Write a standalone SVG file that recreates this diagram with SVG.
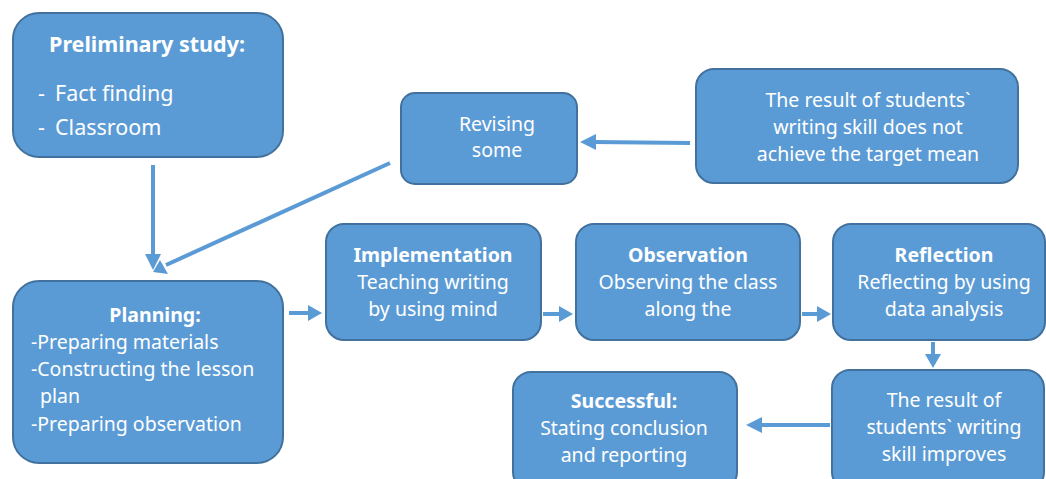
<svg xmlns="http://www.w3.org/2000/svg" width="1046" height="479" viewBox="0 0 1046 479">
  <defs>
    <style>
      .box { fill: #5b9bd5; stroke: #41719c; stroke-width: 2; }
      .t { font-family: "Noto Sans", "Open Sans", sans-serif; font-size: 19.5px; fill: #ffffff; }
      .big { font-size: 21.5px; }
      .b { font-weight: bold; }
      .c { text-anchor: middle; }
      .link { stroke: #5b9bd5; stroke-width: 4; fill: none; }
      .head { fill: #5b9bd5; }
    </style>
  </defs>
  <rect width="1046" height="479" fill="#ffffff"/>

  <g id="connectors">
    <!-- preliminary study down to planning -->
    <line class="link" x1="153" y1="165" x2="153" y2="256"/>
    <polygon class="head" points="145,254 161,254 153,270"/>
    <!-- revising back to planning -->
    <line class="link" x1="390" y1="163" x2="166" y2="265"/>
    <polygon class="head" points="160,260 168,274 153,272"/>
    <!-- unmet target to revising -->
    <line class="link" x1="690" y1="143" x2="594" y2="142"/>
    <polygon class="head" points="596,134 596,150 580,142"/>
    <!-- planning to implementation -->
    <line class="link" x1="289" y1="313" x2="310" y2="313"/>
    <polygon class="head" points="308,305 308,321 322,313"/>
    <!-- implementation to observation -->
    <line class="link" x1="543" y1="314" x2="561" y2="314"/>
    <polygon class="head" points="559,306 559,322 573,314"/>
    <!-- observation to reflection -->
    <line class="link" x1="802" y1="314" x2="819" y2="314"/>
    <polygon class="head" points="817,306 817,322 831,314"/>
    <!-- reflection down to improvement -->
    <line class="link" x1="933" y1="342" x2="933" y2="356"/>
    <polygon class="head" points="925,354 941,354 933,368"/>
    <!-- improvement to successful -->
    <line class="link" x1="830" y1="425" x2="760" y2="425"/>
    <polygon class="head" points="762,417 762,433 746,425"/>
  </g>

  <g id="preliminary">
    <rect class="box" x="13" y="13" width="270" height="144" rx="26"/>
    <text class="t big b c" x="147" y="52">Preliminary study:</text>
    <text class="t big" x="38" y="101">-</text>
    <text class="t big" x="55" y="101">Fact finding</text>
    <text class="t big" x="38" y="135">-</text>
    <text class="t big" x="55" y="135">Classroom</text>
  </g>

  <g id="planning">
    <rect class="box" x="13" y="281" width="270" height="182" rx="26"/>
    <text class="t b c" x="155" y="322">Planning:</text>
    <text class="t" x="31" y="349">-Preparing materials</text>
    <text class="t" x="31" y="376">-Constructing the lesson</text>
    <text class="t" x="40" y="403">plan</text>
    <text class="t" x="31" y="431">-Preparing observation</text>
  </g>

  <g id="revising">
    <rect class="box" x="401" y="93" width="176" height="91" rx="14"/>
    <text class="t c" x="497" y="131">Revising</text>
    <text class="t c" x="497" y="157">some</text>
  </g>

  <g id="target-not-met">
    <rect class="box" x="696" y="69" width="322" height="114" rx="18"/>
    <text class="t c" x="868" y="107">The result of students`</text>
    <text class="t c" x="868" y="134">writing skill does not</text>
    <text class="t c" x="868" y="161">achieve the target mean</text>
  </g>

  <g id="implementation">
    <rect class="box" x="326" y="224" width="215" height="116" rx="18"/>
    <text class="t b c" x="433" y="262">Implementation</text>
    <text class="t c" x="433" y="289">Teaching writing</text>
    <text class="t c" x="433" y="316">by using mind</text>
  </g>

  <g id="observation">
    <rect class="box" x="576" y="224" width="224" height="116" rx="18"/>
    <text class="t b c" x="688" y="262">Observation</text>
    <text class="t c" x="688" y="289">Observing the class</text>
    <text class="t c" x="688" y="316">along the</text>
  </g>

  <g id="reflection">
    <rect class="box" x="833" y="224" width="212" height="116" rx="18"/>
    <text class="t b c" x="944" y="262">Reflection</text>
    <text class="t c" x="944" y="289">Reflecting by using</text>
    <text class="t c" x="944" y="316">data analysis</text>
  </g>

  <g id="improves">
    <rect class="box" x="832" y="370" width="212" height="120" rx="18"/>
    <text class="t c" x="944" y="407">The result of</text>
    <text class="t c" x="944" y="434">students` writing</text>
    <text class="t c" x="944" y="461">skill improves</text>
  </g>

  <g id="successful">
    <rect class="box" x="513" y="372" width="224" height="118" rx="18"/>
    <text class="t b c" x="624" y="408">Successful:</text>
    <text class="t c" x="624" y="435">Stating conclusion</text>
    <text class="t c" x="624" y="462">and reporting</text>
  </g>
</svg>
